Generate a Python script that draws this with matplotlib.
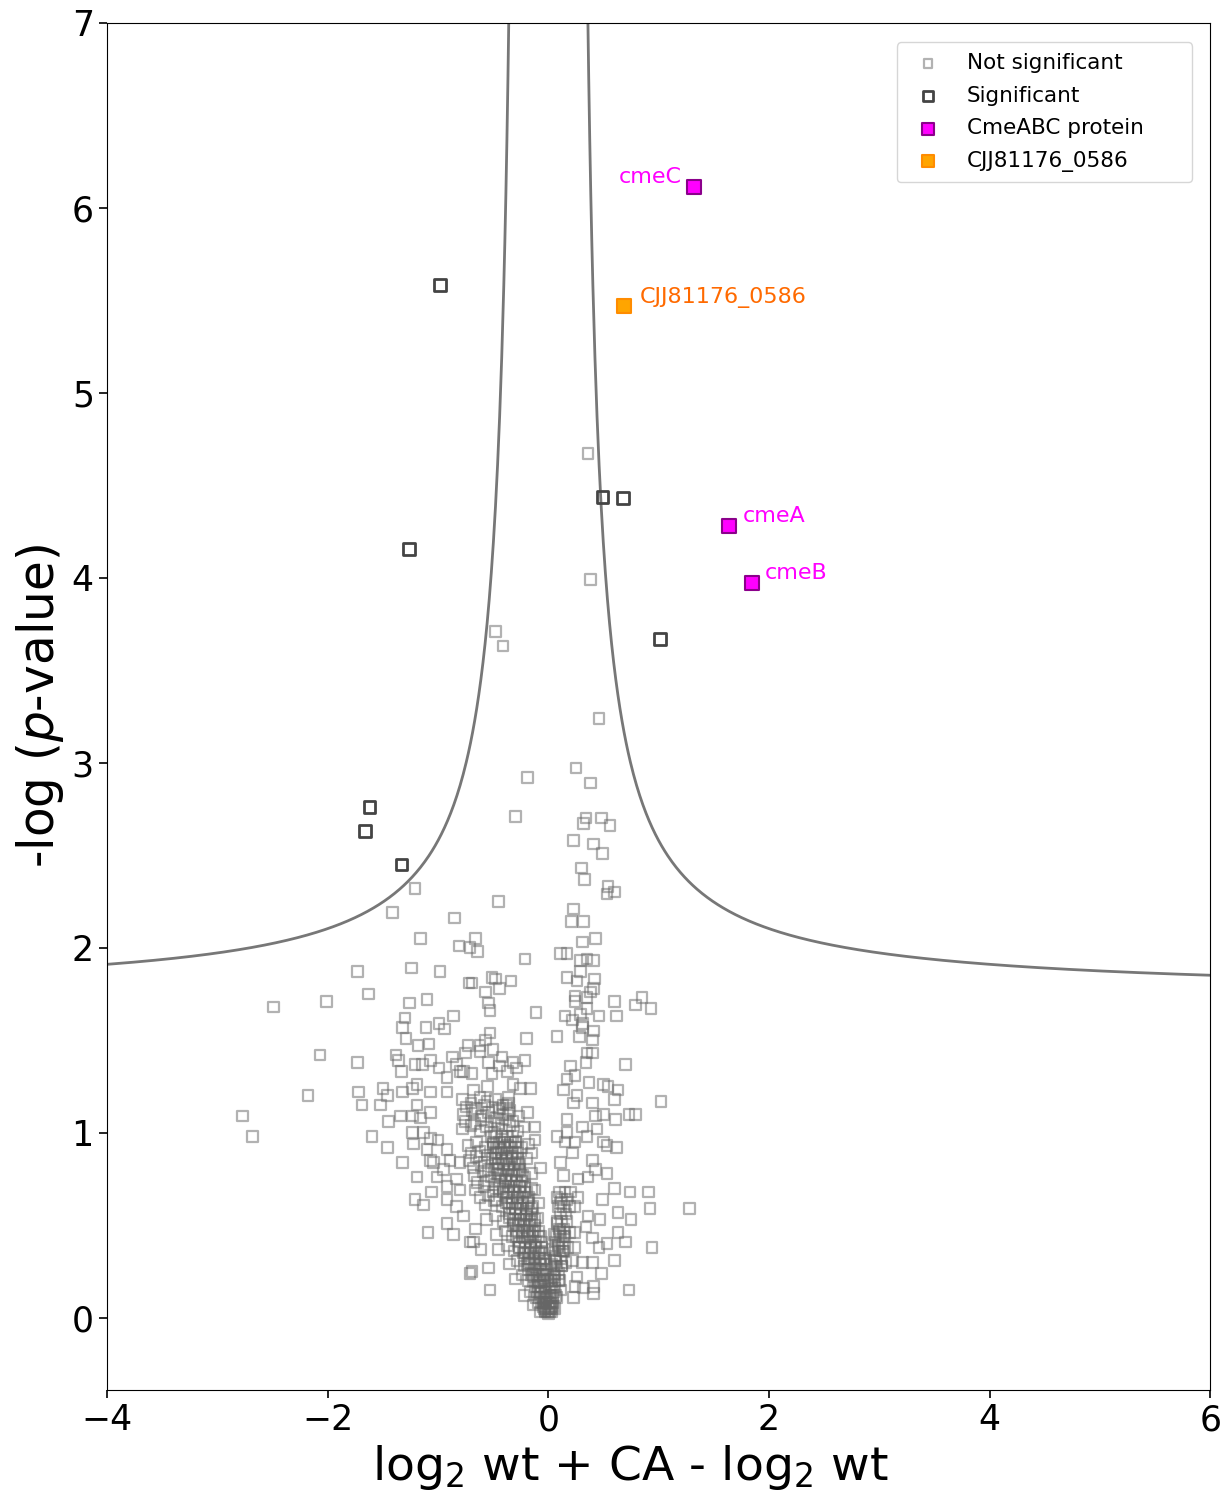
import matplotlib
matplotlib.use('Agg')
import matplotlib.pyplot as plt
import numpy as np

plt.rcParams['font.family'] = ['DejaVu Sans']

# Not significant proteins (log2 fold change, -log p)
ns_x = [0.36, 0.38, -0.48, -0.41, 0.46, 0.25, 0.38, -0.19, -0.30, 0.34, 0.32, 0.48, 0.56,
        0.23, 0.41, 0.49, 0.30, 0.33, 0.54, 0.53, 0.60, -0.45, 0.23, 0.21, 0.32, -0.66,
        -0.71, -0.64, -0.81, -0.21, 0.31, 0.43, 0.11, 0.17, 0.29, 0.35, 0.41, 0.29, 0.17,
        0.26, 0.42, 0.41, 0.38, -0.69, -0.51, -0.48, -0.34, -0.44, -0.57, -0.54, -0.53,
        0.24, 0.24, 0.35, 0.35, 0.60, 0.85, 0.79, 0.93, -0.11, 0.29, 0.15, 0.22, 0.31,
        0.31, 0.46, 0.62, -0.53, -0.20, 0.08, 0.28, 0.41, 0.40, -0.57, -0.62, -0.73,
        -0.75, -0.62, -0.50, -0.42, 0.35, 0.40, 0.34, 0.70, 0.20, -0.54, -0.32, -0.21,
        -0.44, -0.29, -0.37, -0.69, -0.77, -0.51, 0.24, 0.17, 0.37, 0.50, 0.54, 0.63,
        0.14, 0.26, -0.32, -0.25, -0.16, -0.68, -0.55, 1.02,
        -1.21, -1.41, -0.85, -1.16, -1.73, -1.24, -0.98, -0.72, -2.49, -2.01, -1.63,
        -1.26, -1.10, -0.86, -1.30, -1.32, -1.11, -0.99, -0.94, -1.29, -1.18, -1.08,
        -2.07, -1.73, -1.38, -1.36, -1.33, -1.21, -1.14, -1.07, -0.99, -0.87, -0.83,
        -0.92, -0.80, -2.18, -1.72, -1.50, -1.32, -1.23, -1.19, -1.07, -0.92,
        -2.77, -2.68, -1.69, -1.52, -1.46, -1.45, -1.34, -1.60, -1.46, -1.32, -1.22,
        -1.23, -1.19, -1.06, -1.21, -1.13, -1.09, -0.92, -0.86, -0.77, -1.07, -1.01,
        -0.92, -0.92, -0.83, -0.71, -0.71, -1.19, -1.07, -1.23, -1.16, -1.13, -1.07,
        -1.00, -1.10, -0.92, -1.04, -0.89, -0.95, -0.80, -0.83, -0.80,
        0.73, 0.79, 0.60, 0.61, 0.53, 0.62, 0.53, 0.60, 0.74, 0.91, 0.92, 1.28, 0.49,
        0.63, 0.75, 0.63, 0.70, 0.94, 0.53, 0.46, 0.60, 0.40, 0.48, 0.73, 0.41, 0.41,
        -0.69, -0.53, -0.54, -0.61, -0.68, -0.66, -0.19, -0.12, -0.12, -0.15, -0.07,
        -0.12, -0.36, -0.36, 0.08, 0.11, 0.14, 0.40, 0.23, 0.50, 0.43, 0.44, 0.35,
        0.50, 0.40, 0.43, 0.36, 0.27, 0.22, 0.24, 0.31, 0.17, 0.17, 0.15, 0.08, 0.11,
        0.27, 0.24, 0.36, 0.47, 0.34, 0.24, 0.40, 0.24, 0.22, 0.31, 0.26, 0.24, 0.23,
        0.32, 0.08, 0.06, 0.06, 0.05, 0.11,
        # left blob
        -0.78, -0.70, -0.62, -0.55, -0.48, -0.41, -0.36,
        -0.77, -0.69, -0.61, -0.54, -0.47, -0.41, -0.35, -0.27,
        -0.78, -0.70, -0.62, -0.56, -0.49, -0.42, -0.35, -0.28, -0.22,
        -0.73, -0.65, -0.57, -0.50, -0.43, -0.37, -0.30, -0.24, -0.18,
        -0.72, -0.65, -0.58, -0.51, -0.45, -0.39, -0.33, -0.27, -0.20,
        -0.67, -0.59, -0.52, -0.45, -0.39, -0.33, -0.27, -0.21, -0.15,
        -0.66, -0.58, -0.50, -0.44, -0.38, -0.32, -0.26, -0.20, -0.15,
        -0.57, -0.49, -0.42, -0.36, -0.30, -0.25, -0.19, -0.14, -0.09,
        -0.56, -0.48, -0.41, -0.35, -0.30, -0.25, -0.20, -0.15, -0.10,
        -0.47, -0.39, -0.33, -0.27, -0.22, -0.17, -0.12, -0.07,
        -0.45, -0.37, -0.31, -0.26, -0.21, -0.16, -0.12, -0.08,
        -0.35, -0.28, -0.22, -0.17, -0.12, -0.08, -0.04,
        -0.30, -0.24, -0.18, -0.13, -0.09, -0.05,
        -0.22, -0.16, -0.11, -0.07, -0.03,
        -0.14, -0.09, -0.05, -0.02, 0.02,
        -0.07, -0.03, 0.00, 0.03,
        0.05, 0.10, 0.14, 0.19,
        0.04, 0.09, 0.13, 0.18,
        0.03, 0.07, 0.12, 0.16,
        0.02, 0.06, 0.10,
        0.01, 0.05, 0.08,
        0.04, 0.06,
        -0.74, -0.66, -0.58, -0.51, -0.44, -0.38,
        -0.75, -0.67, -0.59, -0.52, -0.45, -0.39, -0.32,
        -0.70, -0.62, -0.55, -0.48,
        -0.68, -0.61, -0.54, -0.47,
        -0.64, -0.56, -0.49,
        -0.62, -0.54, -0.47]
ns_y = [4.67, 3.99, 3.71, 3.63, 3.24, 2.97, 2.89, 2.92, 2.71, 2.70, 2.67, 2.70, 2.66,
        2.58, 2.56, 2.51, 2.43, 2.37, 2.33, 2.29, 2.30, 2.25, 2.21, 2.14, 2.14, 2.05,
        2.00, 1.98, 2.01, 1.94, 2.03, 2.05, 1.97, 1.97, 1.93, 1.94, 1.93, 1.87, 1.84,
        1.82, 1.83, 1.78, 1.76, 1.81, 1.84, 1.83, 1.82, 1.78, 1.76, 1.70, 1.66,
        1.74, 1.71, 1.73, 1.67, 1.71, 1.73, 1.69, 1.67, 1.65, 1.64, 1.63, 1.61, 1.59,
        1.57, 1.63, 1.63, 1.54, 1.51, 1.52, 1.52, 1.55, 1.50, 1.50, 1.47, 1.47,
        1.43, 1.44, 1.45, 1.41, 1.43, 1.43, 1.38, 1.37, 1.36, 1.38, 1.38, 1.39,
        1.36, 1.35, 1.33, 1.32, 1.33, 1.32, 1.31, 1.29, 1.27, 1.26, 1.25, 1.23,
        1.23, 1.20, 1.26, 1.24, 1.24, 1.23, 1.25, 1.17,
        2.32, 2.19, 2.16, 2.05, 1.87, 1.89, 1.87, 1.81, 1.68, 1.71, 1.75,
        1.70, 1.72, 1.63, 1.62, 1.57, 1.57, 1.59, 1.56, 1.51, 1.47, 1.48,
        1.42, 1.38, 1.42, 1.39, 1.33, 1.37, 1.37, 1.39, 1.35, 1.41, 1.37,
        1.30, 1.33, 1.20, 1.22, 1.24, 1.22, 1.24, 1.26, 1.22, 1.22,
        1.09, 0.98, 1.15, 1.15, 1.20, 1.06, 1.09, 0.98, 0.92, 0.84, 0.94,
        1.00, 0.76, 0.68, 0.64, 0.61, 0.46, 0.51, 0.45, 0.55, 0.85, 0.76,
        0.71, 0.64, 0.60, 0.41, 0.24, 1.15, 1.11, 1.09, 1.08, 1.00, 0.97,
        0.96, 0.91, 0.91, 0.84, 0.85, 0.80, 0.84, 0.75, 0.69,
        1.10, 1.10, 1.18, 1.07, 0.93, 0.92, 0.78, 0.70, 0.68, 0.68, 0.59, 0.59, 0.64,
        0.57, 0.53, 0.46, 0.41, 0.38, 0.40, 0.38, 0.31, 0.30, 0.24, 0.15, 0.13, 0.17,
        0.25, 0.15, 0.27, 0.37, 0.41, 0.48, 1.11, 1.03, 0.96, 0.89, 0.81,
        0.69, 1.16, 1.11, 0.98, 0.84, 0.77, 1.16, 1.16, 1.10, 1.09, 1.02, 0.98,
        0.95, 0.85, 0.80, 0.76, 0.75, 0.89, 0.95, 1.03, 1.07, 1.00, 0.95, 0.65, 0.62,
        0.65, 0.60, 0.55, 0.53, 0.49, 0.46, 0.43, 0.38, 0.31, 0.30, 0.22, 0.17, 0.11,
        0.16, 0.51, 0.41, 0.33, 0.22, 0.15,
        1.18, 1.16, 1.19, 1.17, 1.18, 1.15, 1.19,
        1.10, 1.12, 1.09, 1.11, 1.08, 1.10, 1.12, 1.09,
        1.02, 1.04, 1.01, 1.03, 1.00, 1.02, 1.04, 1.01, 1.03,
        0.93, 0.95, 0.92, 0.94, 0.91, 0.93, 0.95, 0.92, 0.94,
        0.85, 0.87, 0.84, 0.86, 0.83, 0.85, 0.87, 0.84, 0.86,
        0.77, 0.79, 0.76, 0.78, 0.75, 0.77, 0.79, 0.76, 0.78,
        0.69, 0.71, 0.68, 0.70, 0.67, 0.69, 0.71, 0.68, 0.70,
        0.61, 0.63, 0.60, 0.62, 0.59, 0.61, 0.63, 0.60, 0.62,
        0.53, 0.55, 0.52, 0.54, 0.51, 0.53, 0.55, 0.52, 0.54,
        0.45, 0.47, 0.44, 0.46, 0.43, 0.45, 0.47, 0.44,
        0.37, 0.39, 0.36, 0.38, 0.35, 0.37, 0.39, 0.36,
        0.29, 0.31, 0.28, 0.30, 0.27, 0.29, 0.31,
        0.21, 0.23, 0.20, 0.22, 0.19, 0.21,
        0.12, 0.14, 0.11, 0.13, 0.10,
        0.07, 0.08, 0.06, 0.08, 0.06,
        0.03, 0.04, 0.02, 0.03,
        0.45, 0.47, 0.44, 0.46,
        0.37, 0.39, 0.36, 0.38,
        0.29, 0.31, 0.28, 0.30,
        0.21, 0.23, 0.20,
        0.12, 0.14, 0.11,
        0.06, 0.05,
        1.14, 1.13, 1.15, 1.14, 1.13, 1.15,
        1.06, 1.05, 1.07, 1.06, 1.05, 1.07, 1.06,
        0.89, 0.90, 0.88, 0.89,
        0.81, 0.82, 0.80, 0.81,
        0.73, 0.74, 0.72,
        0.65, 0.66, 0.64]

# Not significant, dense core of the V (left and right arm)
core_x = [-0.52, -0.47, -0.42, -0.37, -0.32,
          -0.50, -0.45, -0.40, -0.35, -0.30,
          -0.48, -0.43, -0.38, -0.33, -0.28,
          -0.46, -0.41, -0.36, -0.31, -0.26,
          -0.44, -0.39, -0.34, -0.29, -0.24,
          -0.41, -0.36, -0.31, -0.26, -0.21,
          -0.38, -0.33, -0.28, -0.23, -0.18,
          -0.35, -0.30, -0.25, -0.20, -0.15,
          -0.32, -0.27, -0.22, -0.17, -0.12,
          -0.29, -0.24, -0.19, -0.14, -0.09,
          -0.26, -0.21, -0.16, -0.11, -0.06,
          -0.22, -0.17, -0.12, -0.08, -0.04,
          -0.18, -0.14, -0.10, -0.06, -0.02,
          -0.14, -0.10, -0.07, -0.04, -0.01,
          -0.10, -0.07, -0.04, -0.02,
          -0.06, -0.04, -0.02, 0.00,
          -0.03, -0.01, 0.01,
          0.10, 0.15, 0.20,
          0.09, 0.14, 0.19,
          0.08, 0.12, 0.17,
          0.07, 0.11, 0.15,
          0.06, 0.10, 0.14,
          0.05, 0.08, 0.12,
          0.03, 0.06, 0.09,
          0.02, 0.04, 0.07,
          0.01, 0.03,
          # second layer, offset between the rows above
          -0.495, -0.445, -0.395, -0.345, -0.295,
          -0.475, -0.425, -0.375, -0.325, -0.275,
          -0.455, -0.405, -0.355, -0.305, -0.255,
          -0.435, -0.385, -0.335, -0.285, -0.235,
          -0.41, -0.36, -0.31, -0.26, -0.21,
          -0.38, -0.33, -0.28, -0.23, -0.18,
          -0.35, -0.30, -0.25, -0.20, -0.15,
          -0.32, -0.27, -0.22, -0.17, -0.12,
          -0.29, -0.24, -0.19, -0.14, -0.09,
          -0.26, -0.21, -0.16, -0.11, -0.06,
          -0.23, -0.18, -0.13, -0.09, -0.05,
          -0.19, -0.15, -0.11, -0.07, -0.03,
          -0.15, -0.11, -0.08, -0.05, -0.02,
          -0.12, -0.09, -0.06, -0.03,
          -0.08, -0.05, -0.03, -0.01,
          -0.04, -0.02, 0.00,
          0.12, 0.17,
          0.11, 0.16,
          0.10, 0.14,
          0.09, 0.13,
          0.07, 0.11,
          0.05, 0.09,
          0.03, 0.06,
          0.02, 0.04]
core_y = [0.98] * 5 + [0.92] * 5 + [0.86] * 5 + [0.80] * 5 + [0.74] * 5 + \
         [0.68] * 5 + [0.62] * 5 + [0.56] * 5 + [0.50] * 5 + [0.44] * 5 + \
         [0.38] * 5 + [0.32] * 5 + [0.26] * 5 + [0.20] * 5 + [0.14] * 4 + \
         [0.08] * 4 + [0.03] * 3 + \
         [0.68] * 3 + [0.60] * 3 + [0.52] * 3 + [0.44] * 3 + [0.36] * 3 + \
         [0.28] * 3 + [0.20] * 3 + [0.12] * 3 + [0.05] * 2 + \
         [0.95] * 5 + [0.89] * 5 + [0.83] * 5 + [0.77] * 5 + [0.71] * 5 + \
         [0.65] * 5 + [0.59] * 5 + [0.53] * 5 + [0.47] * 5 + [0.41] * 5 + \
         [0.35] * 5 + [0.29] * 5 + [0.23] * 5 + [0.17] * 4 + [0.11] * 4 + \
         [0.05] * 3 + \
         [0.64] * 2 + [0.56] * 2 + [0.48] * 2 + [0.40] * 2 + [0.32] * 2 + \
         [0.24] * 2 + [0.16] * 2 + [0.08] * 2

# Significant proteins
sig_x = [-0.98, -1.26, 0.49, 0.68, 1.015, -1.62, -1.66, -1.33]
sig_y = [5.58, 4.155, 4.435, 4.43, 3.67, 2.76, 2.63, 2.45]

# CmeABC efflux pump
cme_names = ['cmeC', 'cmeA', 'cmeB']
cme_x = [1.32, 1.64, 1.85]
cme_y = [6.11, 4.28, 3.97]

# CJJ81176_0586
cjj_name = 'CJJ81176_0586'
cjj_x = [0.69]
cjj_y = [5.47]

# threshold curve parameters: y = y0 + c / (|x| - s0)
c_curve = 0.64
s0_curve = 0.237
y0_curve = 1.74

fig = plt.figure(figsize=(12.3, 15.01), dpi=100)
ax = fig.add_axes([0.087, 0.074, 0.897, 0.911])

# curva de corte
xr = np.linspace(s0_curve + 0.11, 6, 600)
yr = y0_curve + c_curve / (xr - s0_curve)
ax.plot(xr, yr, color='#777777', lw=2, zorder=1)
ax.plot(-xr, yr, color='#777777', lw=2, zorder=1)

ns_style = dict(marker='s', s=58, facecolors='none', edgecolors='#666666',
                linewidths=1.6, alpha=0.5, zorder=2)
ax.scatter(ns_x, ns_y, label='Not significant', **ns_style)
ax.scatter(core_x, core_y, **ns_style)
ax.scatter(sig_x, sig_y, marker='s', s=72, facecolors='none', edgecolors='#444444',
           linewidths=2, label='Significant', zorder=3)
ax.scatter(cme_x, cme_y, marker='s', s=110, facecolors='#ff00ff', edgecolors='#8b008b',
           linewidths=1.5, label='CmeABC protein', zorder=4)
ax.scatter(cjj_x, cjj_y, marker='s', s=110, facecolors='#ffa500', edgecolors='#ff8c00',
           linewidths=1.5, label=cjj_name, zorder=4)

# etiquetas
ax.annotate(cme_names[0], (cme_x[0], cme_y[0]), xytext=(-54, 3), textcoords='offset points',
            color='#ff00ff', fontsize=16)
ax.annotate(cme_names[1], (cme_x[1], cme_y[1]), xytext=(10, 3), textcoords='offset points',
            color='#ff00ff', fontsize=16)
ax.annotate(cme_names[2], (cme_x[2], cme_y[2]), xytext=(9, 3), textcoords='offset points',
            color='#ff00ff', fontsize=16)
ax.annotate(cjj_name, (cjj_x[0], cjj_y[0]), xytext=(11, 2), textcoords='offset points',
            color='#ff6a00', fontsize=16)

ax.set_xlim(-4, 6)
ax.set_ylim(-0.39, 7)
ax.set_xticks([-4, -2, 0, 2, 4, 6])
ax.set_yticks(range(0, 8))
ax.tick_params(labelsize=25, length=6, width=1.2)
ax.set_xlabel(r'log$_2$ wt + CA - log$_2$ wt', fontsize=34, x=0.474)
ax.set_ylabel(r'-log ($p$-value)', fontsize=35)

leg = ax.legend(loc='upper left', bbox_to_anchor=(0.716, 0.80, 0.2675, 0.1854),
                mode='expand', borderaxespad=0, fontsize=15.5, markerscale=0.8,
                borderpad=0.5, handlelength=1.9, handletextpad=0.85, labelspacing=0.58)

plt.savefig('out.png', dpi=100)
